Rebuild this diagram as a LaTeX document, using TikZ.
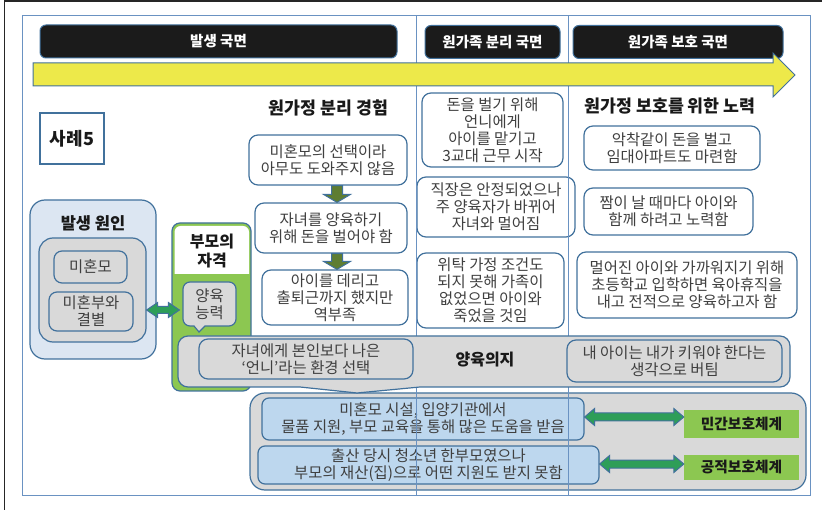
\documentclass[tikz,border=0pt]{standalone}
\usepackage{fontspec}
\setmainfont{Noto Sans CJK KR}
\usetikzlibrary{calc}
\definecolor{bord}{HTML}{41719C}
\definecolor{frameblue}{HTML}{6A92C2}
\definecolor{lblue}{HTML}{DCE6F2}
\definecolor{gfill}{HTML}{D9D9D9}
\definecolor{bfill}{HTML}{BDD7EE}
\definecolor{lgreen}{HTML}{8CC751}
\definecolor{dgreen}{HTML}{2E9E58}
\definecolor{olive}{HTML}{5E7D32}
\definecolor{yel}{HTML}{EDE94A}
\definecolor{txt}{HTML}{3F3F3F}
\definecolor{hdr}{HTML}{1B1B1B}
\newcommand{\fsreg}{\fontsize{15.4}{17}\selectfont}
\newcommand{\fstitle}{\bfseries\fontsize{17.3}{20}\selectfont}
\newcommand{\hdblarrow}[6]{%
  \draw[#1] let \p1=(#2), \p2=(#3) in
  (\x1,\y1) -- (\x1+#4,\y1+#5) -- (\x1+#4,\y1+#6) -- (\x2-#4,\y1+#6) -- (\x2-#4,\y1+#5) -- (\x2,\y1)
  -- (\x2-#4,\y1-#5) -- (\x2-#4,\y1-#6) -- (\x1+#4,\y1-#6) -- (\x1+#4,\y1-#5) -- cycle;}
\newcommand{\vdownarrow}[3]{%
  \draw[#1] let \p1=(#2), \p2=(#3) in
  (\x1-5.5pt,\y1) -- (\x1+5.5pt,\y1) -- (\x1+5.5pt,\y2+8pt) -- (\x1+13.5pt,\y2+8pt) -- (\x1,\y2)
  -- (\x1-13.5pt,\y2+8pt) -- (\x1-5.5pt,\y2+8pt) -- cycle;}
\tikzset{
  rbox/.style={draw=bord, line width=1.2pt, fill=white, rounded corners=9pt, align=center,
    text=txt, font=\fsreg, inner sep=0pt},
  gbox/.style={rbox, fill=gfill},
  bbox/.style={rbox, fill=bfill, rounded corners=7pt},
  hdrbox/.style={draw=bord, line width=1pt, fill=hdr, rounded corners=6pt, text=white,
    font=\bfseries\fontsize{14.5}{17}\selectfont, minimum height=33pt, inner sep=0pt},
  title/.style={font=\fstitle, text=black!90, inner sep=0pt},
  garrow/.style={draw=bord, line width=1pt, fill=dgreen},
  oarrow/.style={draw=bord, line width=1pt, fill=olive},
  glabel/.style={fill=lgreen, font=\bfseries\fontsize{14.7}{18}\selectfont, text=black!90,
    minimum width=115pt, inner sep=0pt},
}
\begin{document}
\begin{tikzpicture}[x=1pt,y=-1pt]
\useasboundingbox (0,0) rectangle (822,510);
% outer frames
\draw[black!85, line width=1.5pt] (4.5,510) -- (4.5,1) -- (822,1);
\draw[frameblue, line width=1pt] (22.7,15.7) rectangle (810,495);

% titles
\node[title] (t1) at (328.5,108) {원가정 분리 경험};
\node[title] (t3) at (670,106) {원가정 보호를 위한 노력};
\node[draw=bord, line width=1.2pt, fill=white, minimum width=64pt, minimum height=51pt,
  font=\bfseries\fontsize{18}{20}\selectfont, text=black!90] (case) at (72,138.5) {사례5};

% column 1
\node[rbox, minimum width=158pt, minimum height=50pt] (b1) at (328,160) {미혼모의 선택이라\\아무도 도와주지 않음};
\node[rbox, minimum width=152pt, minimum height=50pt] (b2) at (331,228) {자녀를 양육하기\\위해 돈을 벌어야 함};
\node[rbox, minimum width=146pt, minimum height=55pt] (b3) at (335,297.5) {아이를 데리고\\출퇴근까지 했지만\\역부족};
\coordinate (ax) at (337,0);
\vdownarrow{oarrow}{ax |- b1.south}{ax |- b2.north}
\vdownarrow{oarrow}{ax |- b2.south}{ax |- b3.north}

% column 2
\node[rbox, minimum width=141pt, minimum height=74pt] (c1) at (492.5,130) {돈을 벌기 위해\\언니에게\\아이를 맡기고\\3교대 근무 시작};
\node[rbox, minimum width=158pt, minimum height=60pt] (c2) at (496,207) {직장은 안정되었으나\\주 양육자가 바뀌어\\자녀와 멀어짐};
\node[rbox, minimum width=147pt, minimum height=75pt] (c3) at (490.5,290.5) {위탁 가정 조건도\\되지 못해 가족이\\없었으면 아이와\\죽었을 것임};

% column 3
\node[rbox, minimum width=176pt, minimum height=44pt] (d1) at (672,148) {악착같이 돈을 벌고\\임대아파트도 마련함};
\node[rbox, minimum width=169pt, minimum height=47pt] (d2) at (668.5,211.5) {짬이 날 때마다 아이와\\함께 하려고 노력함};
\node[rbox, minimum width=220pt, minimum height=66pt] (d3) at (687,285) {멀어진 아이와 가까워지기 위해\\초등학교 입학하면 육아휴직을\\내고 전적으로 양육하고자 함};

% cause
\node[draw=bord, line width=1.2pt, fill=lblue, rounded corners=15pt, minimum width=126pt,
  minimum height=159pt, inner sep=0pt] (cause) at (93,279.5) {};
\node[title, font=\bfseries\fontsize{16.5}{19}\selectfont] (causet) at (93,223) {발생 원인};
\node[gbox, rounded corners=14pt, minimum width=107pt, minimum height=104pt] (causein) at (92.5,290) {};
\node[gbox, rounded corners=8pt, minimum width=73pt, minimum height=32pt] (m1) at (90.5,267) {미혼모};
\node[gbox, rounded corners=8pt, minimum width=84pt, minimum height=39pt] (m2) at (91,311.5) {미혼부와\\결별};

% parent qualification
\node[draw=bord, line width=1.2pt, fill=lgreen, rounded corners=8pt, minimum width=79pt,
  minimum height=168pt, inner sep=0pt] (qual) at (211.5,307) {};
\fill[white] (174.5,274) {[rounded corners=6pt] -- (174.5,226) -- (249,226)} -- (249,274) -- cycle;
\node[title, align=center, font=\bfseries\fontsize{16}{19}\selectfont] (qualt) at (212,251) {부모의\\자격};
\draw[draw=bord, line width=1.2pt, fill=gfill] (194,326) [rounded corners=7pt] -- (183,326) -- (183,282)
  -- (236,282) -- (236,326) [sharp corners] -- (205,326) -- (199,332) -- cycle;
\node[align=center, text=txt, font=\fsreg, inner sep=0pt] (abil) at (209.5,304.5) {양육\\능력};

\coordinate (ya) at (0,310);
\hdblarrow{garrow}{causein.east |- ya}{$(qual.west |- ya)+(8,0)$}{11pt}{7.5pt}{3.5pt}

% bottom support group
\node[gbox, rounded corners=15pt, minimum width=556pt, minimum height=97pt] (support) at (528,441.5) {};
\node[bbox, minimum width=322pt, minimum height=42pt] (s1) at (423,419) {미혼모 시설, 입양기관에서\\물품 지원, 부모 교육을 통해 많은 도움을 받음};
\node[bbox, minimum width=341pt, minimum height=38pt] (s2) at (428.5,465) {출산 당시 청소년 한부모였으나\\부모의 재산(집)으로 어떤 지원도 받지 못함};
\node[glabel, minimum height=28pt] (g1) at (741.5,424) {민간보호체계};
\node[glabel, minimum height=25pt] (g2) at (741.5,467.5) {공적보호체계};
\coordinate (yb1) at (0,417);
\coordinate (yb2) at (0,464);
\hdblarrow{garrow}{s1.east |- yb1}{g1.west |- yb1}{10pt}{8.5pt}{4pt}
\hdblarrow{garrow}{s2.east |- yb2}{g2.west |- yb2}{10pt}{8.5pt}{4pt}

% column dividers
\draw[frameblue, line width=1pt] (416,15.7) -- (416,495);
\draw[frameblue, line width=1pt] (568,15.7) -- (568,495);

% phase headers and arrow
\node[hdrbox, minimum width=357pt] (h1) at (218.5,41.5) {발생 국면};
\node[hdrbox, minimum width=135pt] (h2) at (492.5,42) {원가족 분리 국면};
\node[hdrbox, minimum width=210pt] (h3) at (678,42) {원가족 보호 국면};
\draw[fill=yel, draw=bord, line width=1pt] (33,63) -- (773,63) -- (773,53) -- (795,75) -- (773,97) -- (773,86) -- (33,86) -- cycle;

% will to raise
\draw[draw=bord, line width=1.2pt, fill=gfill] (300,387) [rounded corners=10pt] -- (178,387) -- (178,336)
  -- (790,336) -- (790,387) [sharp corners] -- (420,387) -- (357,393) -- cycle;
\node[gbox, minimum width=214pt, minimum height=40pt] (w1) at (306,359) {자녀에게 본인보다 나은\\‘언니’라는 환경 선택};
\node[gbox, minimum width=215pt, minimum height=42pt] (w2) at (674.5,361) {내 아이는 내가 키워야 한다는\\생각으로 버팀};
\node[title, font=\bfseries\fontsize{16}{19}\selectfont] (will) at (485,360) {양육의지};
\end{tikzpicture}
\end{document}
